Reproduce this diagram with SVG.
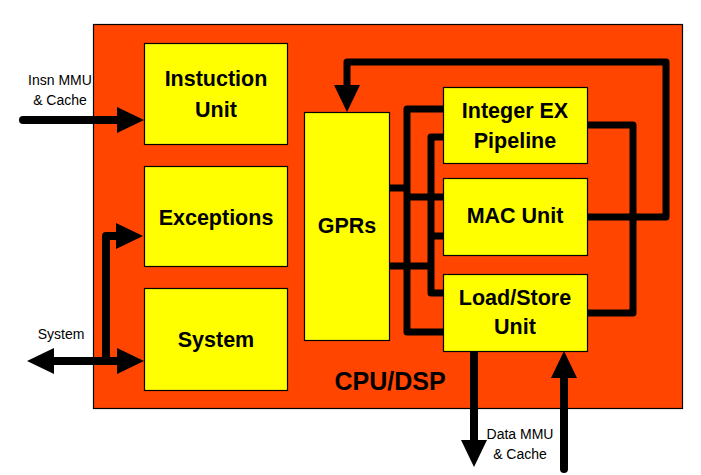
<svg xmlns="http://www.w3.org/2000/svg" width="701" height="475" viewBox="0 0 701 475">
<style>
.box{fill:#FFFF00;stroke:#000;stroke-width:1.2}
.lbl{font-family:"Liberation Sans",Arial,sans-serif;font-weight:bold;font-size:21.5px;fill:#000;text-anchor:middle}
.ext{font-family:"Liberation Sans",Arial,sans-serif;font-size:14px;fill:#000;text-anchor:middle}
.bus{fill:none;stroke:#000;stroke-width:7;stroke-linejoin:round}
.io{fill:none;stroke:#000;stroke-width:8;stroke-linecap:round;stroke-linejoin:round}
</style>
<defs>
<marker id="ah" markerUnits="userSpaceOnUse" markerWidth="27" markerHeight="26" refX="0" refY="13" orient="auto-start-reverse" overflow="visible">
<path d="M0,0 L27,13 L0,26 Z" fill="#000"/>
</marker>
</defs>
<rect width="701" height="475" fill="#fff"/>
<g id="cpu">
<rect x="93.5" y="24.5" width="589" height="384" fill="#FF4500" stroke="#000" stroke-width="1.2"/>
<text x="390" y="390" class="lbl" style="font-size:25px">CPU/DSP</text>
</g>
<g id="connectors">
<path class="io" d="M23,120 H117" marker-end="url(#ah)"/>
<path class="io" d="M54,361 H117" marker-start="url(#ah)" marker-end="url(#ah)"/>
<path class="io" d="M106,361 V236 H116" marker-end="url(#ah)"/>
<path class="io" d="M474,351 V440" marker-end="url(#ah)"/>
<path class="io" d="M564,469 V378" marker-end="url(#ah)"/>
<path class="bus" d="M587,217 H666 V62 H347 V85" marker-end="url(#ah)"/>
<path class="bus" d="M587,125 H633 V313 H587"/>
<path class="bus" d="M443,109 H407 V332 H443"/>
<path class="bus" d="M389,188 H407"/>
<path class="bus" d="M407,197 H443"/>
<path class="bus" d="M443,137 H431 V293 H443"/>
<path class="bus" d="M389,266 H431"/>
<path class="bus" d="M431,236 H443"/>
</g>
<g id="insn-label">
<text x="60" y="85" class="ext">Insn MMU</text>
<text x="60" y="105" class="ext">&amp; Cache</text>
</g>
<g id="system-label">
<text x="61" y="339" class="ext">System</text>
</g>
<g id="data-label">
<text x="520" y="439" class="ext">Data MMU</text>
<text x="520" y="459" class="ext">&amp; Cache</text>
</g>
<g id="instruction-unit">
<rect class="box" x="144.5" y="43.5" width="143" height="101"/>
<text x="216" y="86" class="lbl">Instuction</text>
<text x="216" y="117" class="lbl">Unit</text>
</g>
<g id="exceptions">
<rect class="box" x="144.5" y="166.5" width="143" height="100"/>
<text x="216" y="225" class="lbl">Exceptions</text>
</g>
<g id="system">
<rect class="box" x="144.5" y="288.5" width="143" height="102"/>
<text x="216" y="347" class="lbl">System</text>
</g>
<g id="gprs">
<rect class="box" x="304.5" y="112.5" width="85" height="228"/>
<text x="347" y="233" class="lbl">GPRs</text>
</g>
<g id="integer-ex">
<rect class="box" x="443.5" y="87.5" width="144" height="76"/>
<text x="515" y="118" class="lbl">Integer EX</text>
<text x="515" y="148" class="lbl">Pipeline</text>
</g>
<g id="mac-unit">
<rect class="box" x="443.5" y="178.5" width="144" height="77"/>
<text x="515" y="223" class="lbl">MAC Unit</text>
</g>
<g id="load-store">
<rect class="box" x="443.5" y="274.5" width="144" height="77"/>
<text x="515" y="305" class="lbl">Load/Store</text>
<text x="515" y="334" class="lbl">Unit</text>
</g>
</svg>
